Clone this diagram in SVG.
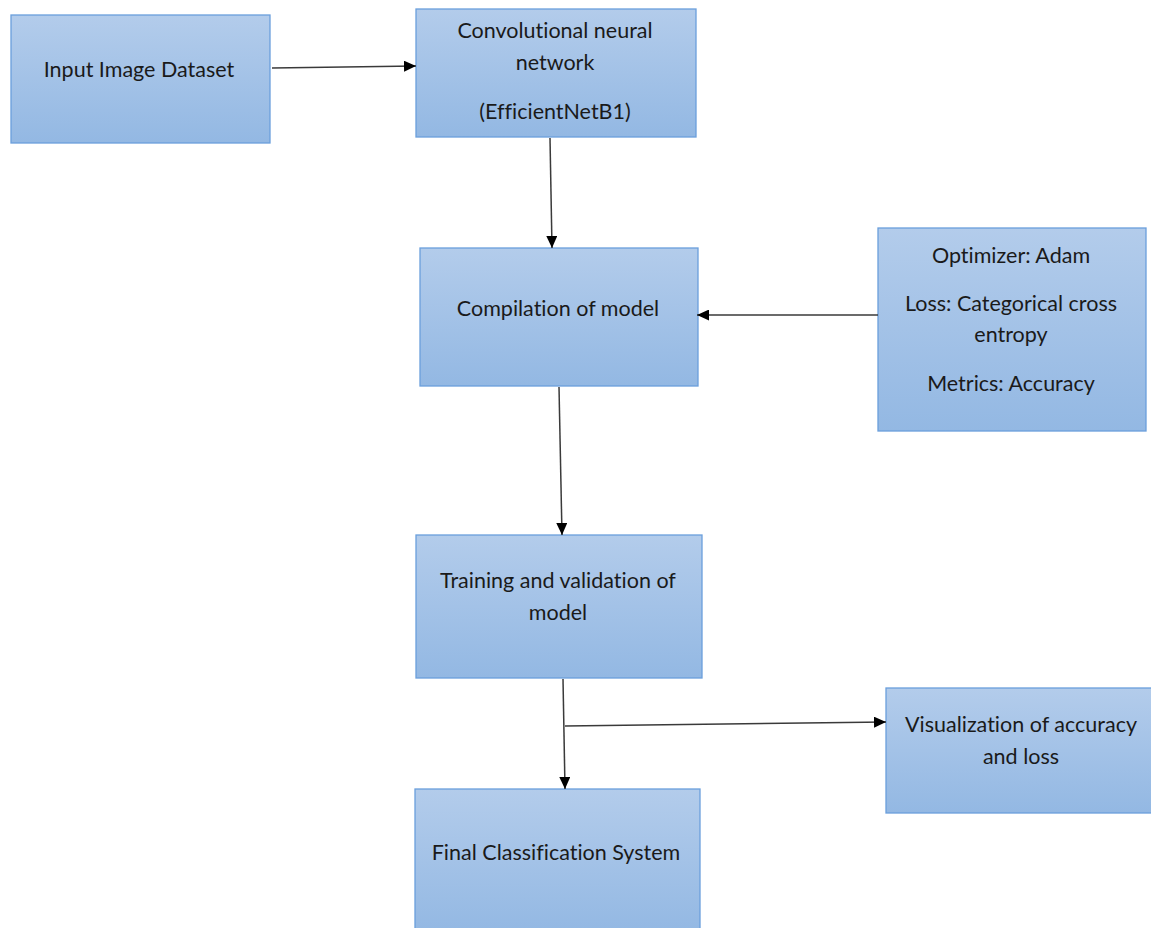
<svg xmlns="http://www.w3.org/2000/svg" width="1151" height="928" viewBox="0 0 1151 928">
<defs>
<linearGradient id="g" x1="0" y1="0" x2="0" y2="1">
<stop offset="0" stop-color="#b3cceb"/>
<stop offset="1" stop-color="#93b8e3"/>
</linearGradient>
<marker id="ah" markerWidth="12" markerHeight="11" refX="12" refY="5.5" orient="auto" markerUnits="userSpaceOnUse" viewBox="0 0 12 11">
<path d="M0,0 L12,5.5 L0,11 z" fill="#000"/>
</marker>
<style>
.box{fill:url(#g);stroke:#6a9fdc;stroke-width:1.3}
.t{font-family:Lato,"Open Sans",sans-serif;font-size:21.5px;fill:#1a1a1a;text-anchor:middle;font-variant-ligatures:none}
.c{stroke:#3a3a3a;stroke-width:1.5;fill:none;marker-end:url(#ah)}
</style>
</defs>
<rect width="1151" height="928" fill="#fff"/>
<g id="input">
<rect class="box" x="11" y="15" width="259" height="128"/>
<text class="t" x="139" y="77">Input Image Dataset</text>
</g>
<g id="cnn">
<rect class="box" x="416" y="9" width="280" height="128"/>
<text class="t" x="555" y="38">Convolutional neural</text>
<text class="t" x="555" y="70">network</text>
<text class="t" x="555" y="119">(EfficientNetB1)</text>
</g>
<g id="compile">
<rect class="box" x="420" y="248" width="278" height="138"/>
<text class="t" x="558" y="316">Compilation of model</text>
</g>
<g id="params">
<rect class="box" x="878" y="228" width="268" height="203"/>
<text class="t" x="1011" y="263">Optimizer: Adam</text>
<text class="t" x="1011" y="311">Loss: Categorical cross</text>
<text class="t" x="1011" y="342">entropy</text>
<text class="t" x="1011" y="391">Metrics: Accuracy</text>
</g>
<g id="train">
<rect class="box" x="416" y="535" width="286" height="143"/>
<text class="t" x="558" y="588">Training and validation of</text>
<text class="t" x="558" y="620">model</text>
</g>
<g id="viz">
<rect class="box" x="886" y="688" width="266" height="125"/>
<text class="t" x="1021" y="732">Visualization of accuracy</text>
<text class="t" x="1021" y="764">and loss</text>
</g>
<g id="final">
<rect class="box" x="415" y="789" width="285" height="145"/>
<text class="t" x="556" y="860">Final Classification System</text>
</g>
<g id="connectors">
<line class="c" x1="272" y1="68" x2="416" y2="66"/>
<line class="c" x1="550" y1="138" x2="552" y2="248"/>
<line class="c" x1="878" y1="315" x2="697" y2="315"/>
<line class="c" x1="559" y1="387" x2="562" y2="535"/>
<line class="c" x1="563" y1="679" x2="565" y2="789"/>
<line class="c" x1="565" y1="726" x2="886" y2="722"/>
</g>
</svg>
